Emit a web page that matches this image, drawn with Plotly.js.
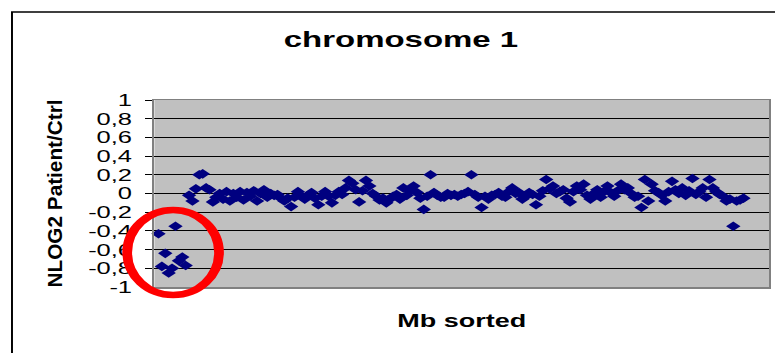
<!DOCTYPE html>
<html>
<head>
<meta charset="utf-8">
<script src="https://cdn.plot.ly/plotly-3.0.1.min.js"></script>
<style>
  html, body { margin: 0; padding: 0; background: #ffffff; }
  #wrap { width: 775px; height: 353px; overflow: hidden; position: relative; }
  #plot { width: 517px; height: 353px; transform: scaleX(1.499); transform-origin: 0 0; }
</style>
</head>
<body>
<div id="wrap"><div id="plot"></div></div>
<script>
// ---- data ----
const nlog2Values = [
  -0.43,-0.78,-0.64,-0.85,-0.80,-0.35,-0.72,-0.68,-0.77,
  -0.02,-0.08,0.05,0.20,0.21,0.06,0.04,-0.09,-0.04,0.00,
  -0.06,0.02,-0.08,0.00,-0.04,0.02,-0.07,0.01,-0.03,0.03,
  -0.08,0.00,0.04,-0.04,0.00,-0.02,-0.01,-0.05,-0.08,-0.05,
  -0.14,-0.04,0.02,-0.03,-0.06,-0.02,0.01,-0.05,-0.12,-0.03,
  0.02,-0.03,-0.10,-0.02,0.02,-0.01,0.06,0.14,0.11,0.04,
  -0.09,0.03,0.14,0.08,0.00,-0.03,-0.07,-0.05,-0.10,-0.06,
  -0.03,-0.01,-0.06,0.06,-0.02,0.03,0.08,0.01,-0.05,-0.17,
  -0.03,0.20,0.01,-0.02,-0.04,-0.04,0.00,-0.02,-0.01,-0.03,
  -0.01,0.00,0.02,0.20,-0.01,-0.04,-0.15,-0.03,-0.06,-0.02,
  -0.01,0.01,-0.03,-0.04,0.02,0.06,0.00,0.01,-0.06,-0.03,
  0.01,-0.01,-0.12,-0.03,0.03,0.15,0.05,0.08,0.00,0.02,
  0.04,-0.05,-0.09,0.02,0.08,0.04,0.10,-0.02,-0.06,0.00,
  0.04,-0.04,0.02,0.08,0.01,-0.03,0.03,0.10,0.04,0.06,
  0.00,-0.04,-0.03,-0.15,0.15,-0.08,0.10,0.03,0.01,-0.02,
  -0.08,0.02,0.13,0.04,0.00,0.06,-0.02,0.03,0.16,-0.01,
  0.02,0.06,-0.04,0.15,0.06,0.02,-0.01,-0.03,-0.08,-0.06,
  -0.35,-0.08,-0.07,-0.05
];
const sortedIndex = nlog2Values.map((v, i) => i + 1);
const yTickValues = [1, 0.8, 0.6, 0.4, 0.2, 0, -0.2, -0.4, -0.6, -0.8, -1];
const yTickLabels = ['1', '0,8', '0,6', '0,4', '0,2', '0', '-0,2', '-0,4', '-0,6', '-0,8', '-1'];
const chartTitle = 'chromosome 1';
const xTitle = 'Mb sorted';
const yTitle = 'NLOG2 Patient/Ctrl';

// ---- layout constants ----
const W = 517, H = 353;
const M = { l: 103, r: 4, t: 100, b: 66 };
const xRange = [-0.2, 180.5];
const yRange = [-1, 1];
const plotW = W - M.l - M.r, plotH = H - M.t - M.b;
const dataToPaperX = x => (x - xRange[0]) / (xRange[1] - xRange[0]);
const dataToPaperY = y => (y - yRange[0]) / (yRange[1] - yRange[0]);
const pxToPaperX = px => (px - M.l) / plotW;
const pxToPaperY = py => 1 - (py - M.t) / plotH;

// highlight ring around the low values at the start of the chromosome
const ring = { x0: -8.2, x1: 18.8, y0: -1.086, y1: -0.176 };

const FONT = 'Liberation Sans, Arial, sans-serif';

const trace = {
  type: 'scatter',
  mode: 'markers',
  x: sortedIndex,
  y: nlog2Values,
  marker: { symbol: 'diamond', size: 7.4, color: '#000080', line: { width: 0 } },
  cliponaxis: false,
  hoverinfo: 'skip'
};

const layout = {
  width: W, height: H,
  margin: M,
  paper_bgcolor: '#ffffff',
  plot_bgcolor: '#C0C0C0',
  showlegend: false,
  separators: ',.',
  title: {
    text: chartTitle,
    font: { family: FONT, size: 22, color: '#000', weight: 'bold' },
    xref: 'container', x: 0.5174, xanchor: 'center',
    yref: 'container', y: 0.89, yanchor: 'middle'
  },
  xaxis: {
    range: xRange,
    showgrid: false, zeroline: false, showticklabels: false, ticks: '',
    showline: true, mirror: true, linecolor: '#808080', linewidth: 1.5,
    title: { text: xTitle, font: { family: FONT, size: 18, color: '#000', weight: 'bold' }, standoff: 27 }
  },
  yaxis: {
    range: yRange,
    tickmode: 'array', tickvals: yTickValues, ticktext: yTickLabels,
    ticks: 'outside', ticklen: 5, tickwidth: 1, tickcolor: '#000',
    ticklabelstandoff: 5,
    tickfont: { family: FONT, size: 17, color: '#000' },
    showgrid: true, gridcolor: '#000', gridwidth: 1,
    zeroline: false,
    showline: true, mirror: true, linecolor: '#808080', linewidth: 1.5,
    title: { text: yTitle, font: { family: FONT, size: 14, color: '#000', weight: 'bold' }, standoff: 13 }
  },
  shapes: [
    {
      type: 'rect', xref: 'paper', yref: 'paper',
      x0: pxToPaperX(8), x1: 3, y0: -3, y1: pxToPaperY(12),
      line: { color: '#000', width: 1.3 }, fillcolor: 'rgba(0,0,0,0)', layer: 'below'
    },
    {
      type: 'circle', xref: 'paper', yref: 'paper',
      x0: dataToPaperX(ring.x0), x1: dataToPaperX(ring.x1),
      y0: dataToPaperY(ring.y0), y1: dataToPaperY(ring.y1),
      line: { color: '#FF0000', width: 6.5 }, fillcolor: 'rgba(0,0,0,0)', layer: 'above'
    }
  ]
};

Plotly.newPlot('plot', [trace], layout, { staticPlot: true, displayModeBar: false }).then(gd => {
  const t = gd.querySelector('.g-ytitle text');
  if (t) {
    t.setAttribute('textLength', '188');
    t.setAttribute('lengthAdjust', 'spacingAndGlyphs');
  }
});
</script>
</body>
</html>
